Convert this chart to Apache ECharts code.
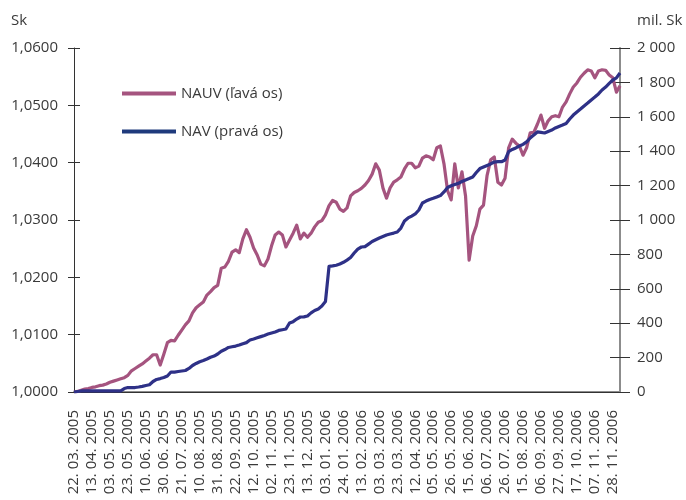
<!DOCTYPE html>
<html>
<head>
<meta charset="utf-8">
<script src="https://cdn.jsdelivr.net/npm/echarts@6/dist/echarts.min.js"></script>
<style>html,body{margin:0;padding:0;background:#fff}#c{width:686px;height:500px}</style>
</head>
<body>
<div id="c"></div>
<script>
// Tick labels of the x axis (one every 5 data points)
const tickLabels = [
  '22. 03. 2005','13. 04. 2005','03. 05. 2005','23. 05. 2005','10. 06. 2005','30. 06. 2005',
  '21. 07. 2005','10. 08. 2005','31. 08. 2005','22. 09. 2005','12. 10. 2005','02. 11. 2005',
  '23. 11. 2005','13. 12. 2005','03. 01. 2006','24. 01. 2006','13. 02. 2006','03. 03. 2006',
  '23. 03. 2006','12. 04. 2006','05. 05. 2006','26. 05. 2006','15. 06. 2006','06. 07. 2006',
  '26. 07. 2006','15. 08. 2006','06. 09. 2006','27. 09. 2006','17. 10. 2006','07. 11. 2006',
  '28. 11. 2006'
];
const pointsPerTick = 5;

// NAUV (left axis, Sk)
const nauv = [
  1.0000,1.0001,1.0003,1.0005,1.0006,1.0008,1.0009,1.0011,1.0012,1.0014,
  1.0017,1.0019,1.0021,1.0023,1.0025,1.0029,1.0037,1.0041,1.0045,1.0049,
  1.0054,1.0059,1.0065,1.0065,1.0047,1.0066,1.0086,1.0090,1.0089,1.0099,
  1.0108,1.0117,1.0124,1.0138,1.0147,1.0152,1.0157,1.0169,1.0175,1.0182,
  1.0186,1.0216,1.0218,1.0228,1.0244,1.0248,1.0243,1.0267,1.0283,1.0270,
  1.0251,1.0239,1.0223,1.0220,1.0232,1.0255,1.0274,1.0279,1.0274,1.0253,
  1.0265,1.0277,1.0291,1.0267,1.0277,1.0270,1.0277,1.0288,1.0296,1.0299,
  1.0309,1.0325,1.0334,1.0331,1.0319,1.0315,1.0321,1.0342,1.0348,1.0351,
  1.0355,1.0361,1.0369,1.0380,1.0398,1.0387,1.0356,1.0338,1.0356,1.0366,
  1.0370,1.0375,1.0389,1.0399,1.0399,1.0391,1.0394,1.0408,1.0412,1.0410,
  1.0405,1.0426,1.0429,1.0398,1.0351,1.0335,1.0398,1.0356,1.0384,1.0342,
  1.0230,1.0272,1.0290,1.0319,1.0326,1.0378,1.0405,1.0410,1.0366,1.0361,
  1.0373,1.0426,1.0441,1.0434,1.0429,1.0413,1.0426,1.0452,1.0453,1.0467,
  1.0483,1.0460,1.0473,1.0480,1.0482,1.0480,1.0497,1.0506,1.0520,1.0532,
  1.0539,1.0549,1.0556,1.0562,1.0560,1.0548,1.0560,1.0562,1.0561,1.0553,
  1.0548,1.0523,1.0534
];

// NAV (right axis, mil. Sk)
const nav = [
  0,3,6,6,6,6,6,6,6,6,
  6,6,6,7,20,26,26,26,29,33,
  38,42,61,73,78,84,93,116,116,119,
  122,125,137,154,166,176,183,192,202,209,
  221,237,247,259,263,267,273,281,287,302,
  308,315,322,329,337,343,349,358,362,366,
  401,409,424,436,437,442,460,474,483,500,
  526,730,733,737,744,754,767,782,808,831,
  843,845,860,875,885,895,904,913,919,924,
  930,953,994,1012,1023,1035,1058,1099,1110,1119,
  1126,1134,1142,1163,1189,1199,1206,1213,1224,1233,
  1241,1250,1276,1299,1308,1317,1326,1337,1339,1339,
  1349,1398,1410,1419,1430,1440,1454,1477,1494,1512,
  1509,1506,1515,1523,1535,1544,1552,1561,1587,1610,
  1628,1645,1663,1680,1698,1715,1733,1756,1773,1794,
  1814,1826,1855
];

const seriesNames = ['NAUV (ľavá os)', 'NAV (pravá os)'];
const leftAxisName = 'Sk';
const rightAxisName = 'mil. Sk';

const categories = nauv.map((_, i) => (i % pointsPerTick === 0 && tickLabels[i / pointsPerTick]) ? tickLabels[i / pointsPerTick] : '');

const FONT = 'Open Sans';
const TXT = '#3a3a3a';

const chart = echarts.init(document.getElementById('c'), null, {renderer: 'canvas'});
chart.setOption({
  animation: false,
  textStyle: {fontFamily: FONT},
  grid: {left: 74, right: 66, top: 48, bottom: 108, containLabel: false, outerBoundsMode: 'none'},
  legend: {
    orient: 'vertical', left: 122, top: 86, padding: 0,
    icon: 'rect', itemWidth: 54, itemHeight: 4, itemGap: 23,
    textStyle: {fontSize: 15, color: TXT, fontFamily: FONT},
    data: seriesNames
  },
  graphic: [
    {type: 'text', left: 11, top: 13, style: {text: leftAxisName, fontSize: 15, fill: TXT, fontFamily: FONT}},
    {type: 'text', left: 637, top: 13, style: {text: rightAxisName, fontSize: 15, fill: TXT, fontFamily: FONT}}
  ],
  xAxis: [
    {
      type: 'category', data: categories, boundaryGap: false, position: 'bottom',
      axisLine: {lineStyle: {color: '#8c8c8c', width: 2}},
      axisTick: {show: false},
      axisLabel: {interval: 0, rotate: 90, fontSize: 15, color: TXT, margin: 18, fontFamily: FONT},
      splitLine: {show: false}
    },
    {
      type: 'category', data: categories, boundaryGap: false, position: 'top',
      axisLine: {lineStyle: {color: '#333', width: 1}},
      axisTick: {show: false}, axisLabel: {show: false}, splitLine: {show: false}
    }
  ],
  yAxis: [
    {
      type: 'value', position: 'left', min: 1.0, max: 1.06, interval: 0.01,
      axisLine: {show: true, lineStyle: {color: '#333', width: 1}},
      axisTick: {show: true, length: 6, lineStyle: {color: '#333'}},
      axisLabel: {fontSize: 15, color: TXT, margin: 16, fontFamily: FONT,
        formatter: v => v.toFixed(4).replace('.', ',')},
      splitLine: {show: false}
    },
    {
      type: 'value', position: 'right', min: 0, max: 2000, interval: 200,
      axisLine: {show: true, lineStyle: {color: '#8c8c8c', width: 2}},
      axisTick: {show: true, length: 10, lineStyle: {color: '#333'}},
      axisLabel: {fontSize: 15, color: TXT, margin: 17, fontFamily: FONT,
        formatter: v => String(v).replace(/\B(?=(\d{3})+(?!\d))/g, ' ')},
      splitLine: {show: false}
    },
    {
      type: 'value', position: 'left', min: 1.0, max: 1.06, interval: 0.01,
      axisLine: {show: false},
      axisTick: {show: true, inside: true, length: 6, lineStyle: {color: '#333'}},
      axisLabel: {show: false}, splitLine: {show: false}
    },
    {
      type: 'value', position: 'right', min: 0, max: 2000, interval: 200,
      axisLine: {show: false},
      axisTick: {show: true, inside: true, length: 10, lineStyle: {color: '#333'}},
      axisLabel: {show: false}, splitLine: {show: false}
    }
  ],
  series: [
    {
      name: seriesNames[0], type: 'line', xAxisIndex: 0, yAxisIndex: 0, data: nauv,
      symbol: 'none', smooth: false, color: '#a5547f',
      lineStyle: {width: 3.2, color: '#a5547f', join: 'round'}, itemStyle: {color: '#a5547f'}
    },
    {
      name: seriesNames[1], type: 'line', xAxisIndex: 0, yAxisIndex: 1, data: nav,
      symbol: 'none', smooth: false, color: '#2e3187',
      lineStyle: {width: 3.2, color: '#2e3187', join: 'round'}, itemStyle: {color: '#1f3a7c'}
    }
  ]
});
</script>
</body>
</html>
